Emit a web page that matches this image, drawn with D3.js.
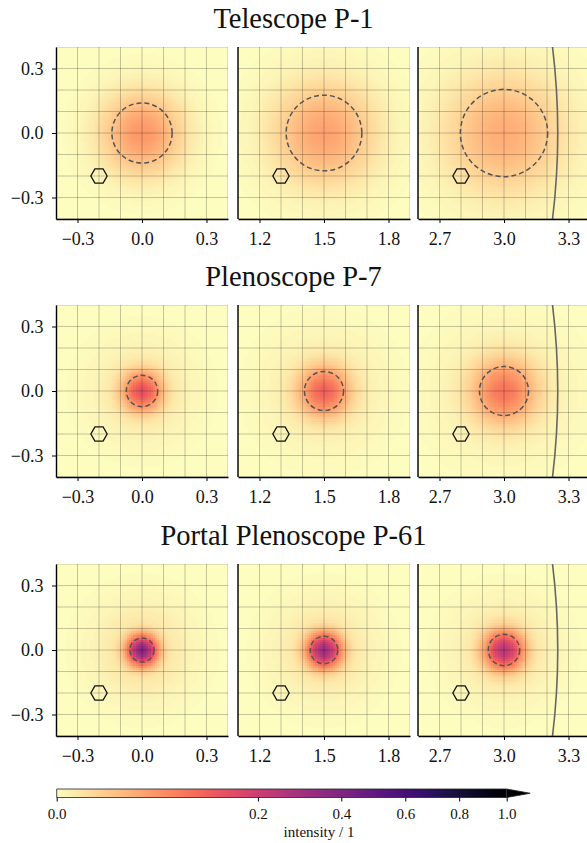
<!DOCTYPE html>
<html>
<head>
<meta charset="utf-8">
<script src="https://cdn.jsdelivr.net/npm/d3@7"></script>
</head>
<body style="margin:0;background:#fff">
<svg id="chart" width="587" height="843" font-family="Liberation Serif" style="display:block"></svg>
<script>
// one row per instrument, one column per off-axis angle of the source / deg
var rowTitles = ["Telescope P-1", "Plenoscope P-7", "Portal Plenoscope P-61"];
var sourceOffAxis = [0.0, 1.5, 3.0];
var xTicks = [[-0.3, 0.0, 0.3], [1.2, 1.5, 1.8], [2.7, 3.0, 3.3]];
var yTicks = [-0.3, 0.0, 0.3];
// radius of the dashed containment circle / deg
var containment = [[0.140, 0.176, 0.203], [0.073, 0.091, 0.114], [0.056, 0.064, 0.073]];
// intensity in the brightest bin
var peakIntensity = [[0.048, 0.038, 0.030], [0.135, 0.105, 0.080], [0.370, 0.300, 0.230]];
// faint wide halo around the core
var haloIntensity = [[0.0, 0.0, 0.0], [0.004, 0.004, 0.004], [0.005, 0.005, 0.005]];
var haloRadius = [[0.1, 0.1, 0.1], [0.16, 0.18, 0.2], [0.16, 0.16, 0.16]];
var pixelCenters = [[-0.2, -0.2], [1.3, -0.2], [2.8, -0.2]];
var pixelRadius = 0.038;
var fovRadius = 3.25;
var cbarTicks = [0.0, 0.2, 0.4, 0.6, 0.8, 1.0];

var FONT = "font-family: 'Liberation Serif', 'Times New Roman', serif";
var panelLeft = [56, 238, 418];
var panelTop = [47, 305, 564];
var panelSize = 172;
var halfSpan = 0.4;
var binWidth = 0.01;

var svg = d3.select("#chart");
var defs = svg.append("defs");

var color = d3.scaleSequentialSqrt(function(t) { return d3.interpolateMagma(1 - t); })
	.domain([0, 1]).clamp(true);
var fmt = d3.format(".1f");

function psfCells(row, col) {
	var c = sourceOffAxis[col];
	var sigma = containment[row][col] / 1.51;
	var hs = haloRadius[row][col] / 1.51;
	var n = Math.round(2 * halfSpan / binWidth);
	var cells = [];
	for (var i = 0; i < n; i++) {
		for (var k = 0; k < n; k++) {
			var x0 = c - halfSpan + i * binWidth;
			var y0 = -halfSpan + k * binWidth;
			var dx = x0 + binWidth / 2 - c, dy = y0 + binWidth / 2;
			var r2 = dx * dx + dy * dy;
			var v = peakIntensity[row][col] * Math.exp(-r2 / (2 * sigma * sigma))
				+ haloIntensity[row][col] * Math.exp(-r2 / (2 * hs * hs));
			cells.push({x0: x0, y0: y0, v: v});
		}
	}
	return cells;
}

function serif(sel, size) {
	sel.attr("font-family", "Liberation Serif")
		.attr("font-size", size)
		.attr("style", FONT + "; font-size: " + size + "px")
		.attr("fill", "#111");
}

rowTitles.forEach(function(title, row) {
	var top = panelTop[row];
	svg.append("text")
		.attr("x", 293.5)
		.attr("y", top - 19)
		.attr("text-anchor", "middle")
		.text(title)
		.call(serif, 28.5);

	sourceOffAxis.forEach(function(c, col) {
		var left = panelLeft[col];
		var x = d3.scaleLinear().domain([c - halfSpan, c + halfSpan]).range([left, left + panelSize]);
		var y = d3.scaleLinear().domain([-halfSpan, halfSpan]).range([top + panelSize, top]);
		var clipId = "clip-" + row + "-" + col;
		defs.append("clipPath").attr("id", clipId)
			.append("rect")
			.attr("x", left).attr("y", top)
			.attr("width", panelSize).attr("height", panelSize);

		var g = svg.append("g").attr("clip-path", "url(#" + clipId + ")");

		g.append("g")
			.attr("shape-rendering", "crispEdges")
			.selectAll("rect")
			.data(psfCells(row, col))
			.join("rect")
			.attr("x", function(d) { return x(d.x0); })
			.attr("y", function(d) { return y(d.y0 + binWidth); })
			.attr("width", x(c - halfSpan + binWidth) - x(c - halfSpan) + 0.5)
			.attr("height", y(0) - y(binWidth) + 0.5)
			.attr("fill", function(d) { return color(d.v); });

		// grid every 0.1 deg
		var grid = d3.range(-4, 5).map(function(k) { return k / 10; });
		g.append("g").selectAll("line.v")
			.data(grid)
			.join("line")
			.attr("x1", function(d) { return x(c + d); })
			.attr("x2", function(d) { return x(c + d); })
			.attr("y1", top).attr("y2", top + panelSize)
			.attr("stroke", "#000").attr("stroke-opacity", 0.22).attr("stroke-width", 1);
		g.append("g").selectAll("line.h")
			.data(grid)
			.join("line")
			.attr("y1", function(d) { return y(d); })
			.attr("y2", function(d) { return y(d); })
			.attr("x1", left).attr("x2", left + panelSize)
			.attr("stroke", "#000").attr("stroke-opacity", 0.22).attr("stroke-width", 1);

		// field of view border
		g.append("circle")
			.attr("cx", x(0)).attr("cy", y(0))
			.attr("r", x(fovRadius) - x(0))
			.attr("fill", "none")
			.attr("stroke", "#666")
			.attr("stroke-width", 1.6);

		// containment circle
		g.append("circle")
			.attr("cx", x(c)).attr("cy", y(0))
			.attr("r", x(c + containment[row][col]) - x(c))
			.attr("fill", "none")
			.attr("stroke", "#555")
			.attr("stroke-width", 1.5)
			.attr("stroke-dasharray", "5,3");

		// one camera pixel
		var pc = pixelCenters[col];
		var hex = d3.range(6).map(function(k) {
			var a = k * Math.PI / 3;
			return [x(pc[0] + pixelRadius * Math.cos(a)), y(pc[1] + pixelRadius * Math.sin(a))];
		});
		g.append("path")
			.attr("d", d3.line()(hex) + "Z")
			.attr("fill", "none")
			.attr("stroke", "#111")
			.attr("stroke-width", 1.3);

		// axes
		var xAxis = d3.axisBottom(x).tickValues(xTicks[col]).tickFormat(fmt)
			.tickSize(4).tickSizeOuter(0).tickPadding(9);
		var ax = svg.append("g")
			.attr("transform", "translate(0," + (top + panelSize) + ")")
			.call(xAxis)
			.attr("font-family", "Liberation Serif");
		ax.selectAll("text").call(serif, 18);
		ax.select(".domain").attr("stroke-width", 1.4);

		if (col == 0) {
			var yAxis = d3.axisLeft(y).tickValues(yTicks).tickFormat(fmt)
				.tickSize(4).tickSizeOuter(0).tickPadding(8.5);
			var ay = svg.append("g")
				.attr("transform", "translate(" + left + ",0)")
				.call(yAxis)
				.attr("font-family", "Liberation Serif");
			ay.selectAll("text").call(serif, 18);
			ay.select(".domain").attr("stroke-width", 1.4);
		} else {
			svg.append("line")
				.attr("x1", left).attr("x2", left)
				.attr("y1", top).attr("y2", top + panelSize)
				.attr("stroke", "#000").attr("stroke-width", 1.4);
		}
	});
});

// colorbar
var cbX0 = 56.7, cbX1 = 506.7, cbY = 789, cbH = 8.5;
var cb = d3.scaleSqrt().domain([0, 1]).range([cbX0, cbX1]);
var grad = defs.append("linearGradient").attr("id", "cbar-grad")
	.attr("x1", "0%").attr("x2", "100%");
grad.selectAll("stop")
	.data(d3.range(0, 1.0001, 0.02))
	.join("stop")
	.attr("offset", function(p) { return (p * 100) + "%"; })
	.attr("stop-color", function(p) { return color(cb.invert(cbX0 + p * (cbX1 - cbX0))); });

svg.append("rect")
	.attr("x", cbX0).attr("y", cbY)
	.attr("width", cbX1 - cbX0).attr("height", cbH)
	.attr("fill", "url(#cbar-grad)");
svg.append("path")
	.attr("d", "M" + cbX1 + "," + cbY + "L" + (cbX1 + 23.5) + "," + (cbY + cbH / 2) + "L" + cbX1 + "," + (cbY + cbH) + "Z")
	.attr("fill", color(1));
svg.append("path")
	.attr("d", "M" + cbX0 + "," + cbY + "L" + cbX1 + "," + cbY + "L" + (cbX1 + 23.5) + "," + (cbY + cbH / 2)
		+ "L" + cbX1 + "," + (cbY + cbH) + "L" + cbX0 + "," + (cbY + cbH) + "Z")
	.attr("fill", "none")
	.attr("stroke", "#222")
	.attr("stroke-width", 0.8);

var cbAxis = d3.axisBottom(cb).tickValues(cbarTicks).tickFormat(fmt)
	.tickSize(4).tickSizeOuter(0).tickPadding(6.8);
var cba = svg.append("g")
	.attr("transform", "translate(0," + (cbY + cbH) + ")")
	.call(cbAxis)
	.attr("font-family", "Liberation Serif");
cba.select(".domain").remove();
cba.selectAll("text").call(serif, 15);

svg.append("text")
	.attr("x", 319)
	.attr("y", 837)
	.attr("text-anchor", "middle")
	.text("intensity / 1")
	.call(serif, 15);
</script>
</body>
</html>
